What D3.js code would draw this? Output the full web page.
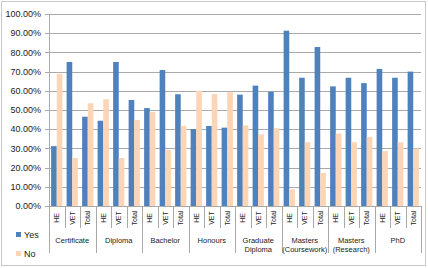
<!DOCTYPE html>
<html>
<head>
<meta charset="utf-8">
<script src="https://cdn.jsdelivr.net/npm/d3@7"></script>
<style>
  body { margin: 0; background: #fff; }
  text { font-family: "Liberation Sans", Arial, sans-serif; fill: #222; }
</style>
</head>
<body>
<svg id="chart" width="428" height="268"></svg>
<script>
// data
var groups = [["Certificate"], ["Diploma"], ["Bachelor"], ["Honours"], ["Graduate", "Diploma"],
  ["Masters", "(Coursework)"], ["Masters", "(Research)"], ["PhD"]];
var sectors = ["HE", "VET", "Total"];
var yesVals = [31.2, 75, 46.5, 44.4, 75, 55.2, 51, 70.8, 58.2, 40.1, 41.7, 40.8,
  58, 62.7, 59.5, 91.3, 66.8, 82.8, 62.3, 66.8, 64, 71.4, 66.8, 70];
var noVals = [68.8, 25, 53.5, 55.6, 25, 44.8, 49, 29.2, 41.8, 59.9, 58.3, 59.2,
  42, 37.3, 40.5, 8.7, 33.2, 17.2, 37.7, 33.2, 36, 28.6, 33.2, 30];
var yTicks = [0, 10, 20, 30, 40, 50, 60, 70, 80, 90, 100];
var seriesNames = ["Yes", "No"];
var colors = ["#4f81bd", "#fbd5b5"];

var svg = d3.select('#chart');
var plotL = 49, plotR = 421, plotT = 14, plotB = 206;

// outer border
svg.append("rect").attr("x", 1.5).attr("y", 1.5).attr("width", 424).attr("height", 264)
  .attr("fill", "none").attr("stroke", "#c8c8c8");

var rows = [];
groups.forEach(function (g, gi) {
  sectors.forEach(function (s, si) {
    var i = gi * 3 + si;
    rows.push({ key: i, group: gi, sector: s, vals: [yesVals[i], noVals[i]] });
  });
});

var x = d3.scaleBand().domain(rows.map(d => d.key)).range([plotL, plotR]).padding(0);
var x1 = d3.scaleBand().domain([0, 1]).range([0, x.bandwidth()]).paddingInner(0).paddingOuter(0.38);
var y = d3.scaleLinear().domain([0, 100]).range([plotB, plotT]);

// gridlines
svg.append("g").selectAll("line").data(yTicks).enter().append("line")
  .attr("x1", plotL - 4).attr("x2", plotR)
  .attr("y1", d => Math.round(y(d)) + 0.5).attr("y2", d => Math.round(y(d)) + 0.5)
  .attr("stroke", "#a9a9a9").attr("stroke-width", 1);

svg.append("g").selectAll("text").data(yTicks).enter().append("text")
  .attr("x", 41).attr("y", d => y(d)).attr("dy", "0.35em")
  .attr("text-anchor", "end").attr("font-size", "9px")
  .text(d => d.toFixed(2) + "%");

// bars
var cat = svg.append("g").selectAll("g").data(rows).enter().append("g")
  .attr("transform", d => "translate(" + x(d.key) + ",0)");
cat.selectAll("rect").data(d => d.vals.map((v, k) => ({ k: k, v: v }))).enter().append("rect")
  .attr("x", d => x1(d.k)).attr("width", x1.bandwidth())
  .attr("y", d => y(d.v)).attr("height", d => plotB - y(d.v))
  .attr("fill", d => colors[d.k]);

// axis lines
svg.append("line").attr("x1", plotL + 0.5).attr("x2", plotL + 0.5).attr("y1", plotT).attr("y2", plotB)
  .attr("stroke", "#a9a9a9");
svg.append("line").attr("x1", plotL).attr("x2", plotR).attr("y1", plotB + 0.5).attr("y2", plotB + 0.5)
  .attr("stroke", "#a9a9a9");

// category separators
var seps = d3.range(rows.length + 1);
svg.append("g").selectAll("line").data(seps).enter().append("line")
  .attr("x1", d => Math.round(d < rows.length ? x(d) : plotR) + 0.5)
  .attr("x2", d => Math.round(d < rows.length ? x(d) : plotR) + 0.5)
  .attr("y1", plotB)
  .attr("y2", d => d % 3 === 0 ? 253 : 228)
  .attr("stroke", "#a9a9a9");

// sector labels, rotated
svg.append("g").selectAll("text").data(rows).enter().append("text")
  .attr("transform", d => "translate(" + (x(d.key) + x.bandwidth() / 2) + ",218) rotate(-90)")
  .attr("text-anchor", "middle").attr("dy", "0.35em").attr("font-size", "7px")
  .text(d => d.sector);

// group labels
var gl = svg.append("g").selectAll("text").data(groups).enter().append("text")
  .attr("x", (d, i) => x(i * 3) + x.bandwidth() * 1.5)
  .attr("y", d => 243)
  .attr("text-anchor", "middle").attr("font-size", "7.5px");
gl.selectAll("tspan").data(d => d).enter().append("tspan")
  .attr("x", function () { return d3.select(this.parentNode).attr("x"); })
  .attr("dy", (d, i) => i === 0 ? 0 : 9)
  .text(d => d);

// legend
var leg = svg.append("g").selectAll("g").data(seriesNames).enter().append("g")
  .attr("transform", (d, i) => "translate(16," + (232 + i * 19) + ")");
leg.append("rect").attr("width", 5).attr("height", 5).attr("fill", (d, i) => colors[i]);
leg.append("text").attr("x", 8).attr("y", 2.5).attr("dy", "0.35em").attr("font-size", "9px")
  .text(d => d);
</script>
</body>
</html>
